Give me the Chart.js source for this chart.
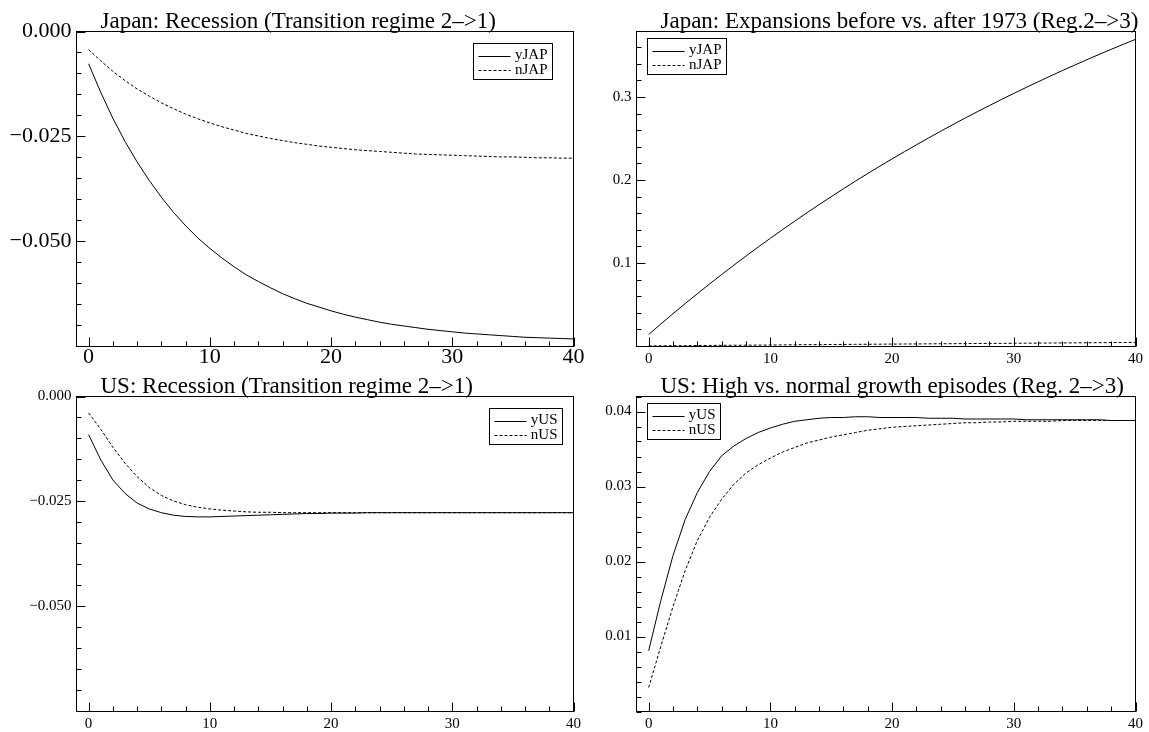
<!DOCTYPE html>
<html>
<head>
<meta charset="utf-8">
<script src="https://cdn.jsdelivr.net/npm/chart.js@4.4.1/dist/chart.umd.min.js"></script>
<style>
  html, body { margin: 0; padding: 0; background: #fff; }
  #page { position: relative; width: 1149px; height: 732px; overflow: hidden; }
  #page canvas { position: absolute; }
</style>
</head>
<body>
<div id="page">
  <canvas id="japRec" width="600" height="372" style="left:0px;top:0px"></canvas>
  <canvas id="japExp" width="569" height="372" style="left:580px;top:0px"></canvas>
  <canvas id="usRec" width="600" height="360" style="left:0px;top:372px"></canvas>
  <canvas id="usHigh" width="569" height="360" style="left:580px;top:372px"></canvas>
</div>
<script>
const horizons = [0, 1, 2, 3, 4, 5, 6, 7, 8, 9, 10, 11, 12, 13, 14, 15, 16, 17, 18, 19, 20,
  21, 22, 23, 24, 25, 26, 27, 28, 29, 30, 31, 32, 33, 34, 35, 36, 37, 38, 39, 40];

// Japan, recession (regime 2->1)
const japRecY = [-0.0077, -0.0145, -0.0207, -0.0262, -0.0311, -0.0355, -0.0395, -0.0431, -0.0463, -0.0492, -0.0517,
  -0.0540, -0.0561, -0.0580, -0.0596, -0.0611, -0.0625, -0.0637, -0.0648, -0.0657, -0.0666,
  -0.0674, -0.0681, -0.0687, -0.0693, -0.0698, -0.0702, -0.0706, -0.0710, -0.0713, -0.0716,
  -0.0719, -0.0721, -0.0723, -0.0725, -0.0727, -0.0729, -0.0730, -0.0731, -0.0732, -0.0733];
const japRecN = [-0.0043, -0.0070, -0.0095, -0.0117, -0.0137, -0.0154, -0.0170, -0.0184, -0.0197, -0.0208, -0.0218,
  -0.0227, -0.0235, -0.0243, -0.0249, -0.0255, -0.0260, -0.0265, -0.0269, -0.0273, -0.0276,
  -0.0279, -0.0282, -0.0284, -0.0286, -0.0288, -0.0290, -0.0292, -0.0293, -0.0294, -0.0295,
  -0.0296, -0.0297, -0.0298, -0.0299, -0.0299, -0.0300, -0.0301, -0.0301, -0.0302, -0.0302];

// Japan, expansions before vs after 1973 (regime 2->3)
const japExpY = [0.0140, 0.0266, 0.0390, 0.0512, 0.0631, 0.0748, 0.0862, 0.0975, 0.1085, 0.1193, 0.1299,
  0.1403, 0.1505, 0.1606, 0.1704, 0.1800, 0.1895, 0.1988, 0.2079, 0.2168, 0.2255,
  0.2341, 0.2425, 0.2508, 0.2589, 0.2669, 0.2747, 0.2823, 0.2898, 0.2972, 0.3044,
  0.3115, 0.3184, 0.3253, 0.3320, 0.3385, 0.3450, 0.3513, 0.3575, 0.3636, 0.3695];
const japExpN = [0.0002, 0.0003, 0.0004, 0.0005, 0.0007, 0.0008, 0.0009, 0.0010, 0.0011, 0.0012, 0.0013,
  0.0014, 0.0016, 0.0017, 0.0018, 0.0019, 0.0020, 0.0021, 0.0022, 0.0023, 0.0024,
  0.0025, 0.0026, 0.0027, 0.0028, 0.0029, 0.0030, 0.0031, 0.0032, 0.0033, 0.0034,
  0.0035, 0.0036, 0.0037, 0.0038, 0.0039, 0.0040, 0.0041, 0.0042, 0.0043, 0.0044];

// US, recession (regime 2->1)
const usRecY = [-0.0091, -0.0151, -0.0199, -0.0231, -0.0254, -0.0268, -0.0277, -0.0283, -0.0286, -0.0287, -0.0287,
  -0.0286, -0.0285, -0.0284, -0.0283, -0.0282, -0.0281, -0.0280, -0.0279, -0.0279, -0.0278,
  -0.0278, -0.0278, -0.0277, -0.0277, -0.0277, -0.0277, -0.0277, -0.0277, -0.0277, -0.0277,
  -0.0277, -0.0277, -0.0277, -0.0277, -0.0277, -0.0277, -0.0277, -0.0277, -0.0277, -0.0277];
const usRecN = [-0.0039, -0.0078, -0.0121, -0.0159, -0.0191, -0.0217, -0.0236, -0.0249, -0.0258, -0.0264, -0.0268,
  -0.0271, -0.0273, -0.0275, -0.0276, -0.0276, -0.0277, -0.0277, -0.0277, -0.0277, -0.0277,
  -0.0277, -0.0277, -0.0277, -0.0277, -0.0277, -0.0277, -0.0277, -0.0277, -0.0277, -0.0277,
  -0.0277, -0.0277, -0.0277, -0.0277, -0.0277, -0.0277, -0.0277, -0.0277, -0.0277, -0.0277];

// US, high vs normal growth (regime 2->3)
const usHighY = [0.0081, 0.0148, 0.0208, 0.0256, 0.0292, 0.0320, 0.0341, 0.0354, 0.0364, 0.0372, 0.0378,
  0.0383, 0.0387, 0.0389, 0.0391, 0.0392, 0.0392, 0.0393, 0.0393, 0.0392, 0.0392,
  0.0392, 0.0392, 0.0391, 0.0391, 0.0391, 0.0390, 0.0390, 0.0390, 0.0390, 0.0390,
  0.0389, 0.0389, 0.0389, 0.0389, 0.0389, 0.0389, 0.0389, 0.0388, 0.0388, 0.0388];
const usHighN = [0.0032, 0.0087, 0.0140, 0.0188, 0.0228, 0.0259, 0.0283, 0.0303, 0.0318, 0.0329, 0.0338,
  0.0346, 0.0352, 0.0358, 0.0362, 0.0366, 0.0369, 0.0372, 0.0375, 0.0377, 0.0379,
  0.0380, 0.0381, 0.0382, 0.0383, 0.0384, 0.0385, 0.0385, 0.0386, 0.0386, 0.0387,
  0.0387, 0.0387, 0.0387, 0.0388, 0.0388, 0.0388, 0.0388, 0.0388, 0.0388, 0.0388];

const xTicks = [0, 10, 20, 30, 40];
const recTicks = [-0.050, -0.025, 0.000];
const japExpTicks = [0.1, 0.2, 0.3];
const usHighTicks = [0.01, 0.02, 0.03, 0.04];

const serif = '"Liberation Serif", "Times New Roman", serif';
Chart.defaults.color = '#000';

// frame, inward ticks, title and boxed legend, the way the original graphics package draws them
const panelDecor = {
  id: 'panelDecor',
  afterDraw(chart, args, opts) {
    const ctx = chart.ctx;
    const area = chart.chartArea;
    const xs = chart.scales.x;
    const ys = chart.scales.y;
    ctx.save();
    ctx.strokeStyle = '#000';
    ctx.lineWidth = 1;
    ctx.strokeRect(area.left, area.top, area.right - area.left, area.bottom - area.top);

    ctx.beginPath();
    for (let v = Math.ceil(xs.min / opts.xMinor) * opts.xMinor; v <= xs.max + 1e-9; v += opts.xMinor) {
      const px = Math.round(xs.getPixelForValue(v)) + 0.5;
      const major = xs.ticks.some(t => Math.abs(t.value - v) < 1e-9);
      ctx.moveTo(px, area.bottom);
      ctx.lineTo(px, area.bottom - (major ? 9 : 5));
    }
    const n0 = Math.ceil(ys.min / opts.yMinor - 1e-6);
    const n1 = Math.floor(ys.max / opts.yMinor + 1e-6);
    for (let i = n0; i <= n1; i++) {
      const v = i * opts.yMinor;
      const py = Math.round(ys.getPixelForValue(v)) + 0.5;
      const major = ys.ticks.some(t => Math.abs(t.value - v) < opts.yMinor / 100);
      ctx.moveTo(area.left, py);
      ctx.lineTo(area.left + (major ? 9 : 5), py);
    }
    ctx.stroke();

    ctx.fillStyle = '#000';
    ctx.font = '23px ' + serif;
    ctx.textAlign = 'left';
    ctx.textBaseline = 'alphabetic';
    ctx.fillText(opts.title, area.left + 24, area.top - 4);

    ctx.font = '15px ' + serif;
    const sets = chart.data.datasets;
    const textW = Math.max(...sets.map(d => ctx.measureText(d.label).width));
    const boxW = Math.round(5 + 32 + 4 + textW + 5);
    const boxH = 36;
    const bx = Math.round(area.left + opts.legendX) + 0.5;
    const by = Math.round(area.top + opts.legendY) + 0.5;
    ctx.fillStyle = '#fff';
    ctx.fillRect(bx, by, boxW, boxH);
    ctx.strokeRect(bx, by, boxW, boxH);
    sets.forEach((d, i) => {
      const ry = by + 12 + i * 14.5;
      ctx.setLineDash(d.borderDash || []);
      ctx.beginPath();
      ctx.moveTo(bx + 5, Math.round(ry) + 0.5);
      ctx.lineTo(bx + 37, Math.round(ry) + 0.5);
      ctx.stroke();
      ctx.setLineDash([]);
      ctx.fillStyle = '#000';
      ctx.textAlign = 'right';
      ctx.textBaseline = 'middle';
      ctx.fillText(d.label, bx + boxW - 5, ry);
    });
    ctx.restore();
  }
};

function fmtDec(digits) {
  return v => (v < 0 ? '\u2212' : '') + Math.abs(v).toFixed(digits);
}

function makePanel(id, p) {
  const datasets = p.series.map(s => ({
    label: s.label,
    data: horizons.map((h, i) => ({ x: h, y: s.values[i] })),
    borderColor: '#000',
    borderWidth: 1,
    borderDash: s.dashed ? [3, 2] : [],
    pointRadius: 0,
    tension: 0,
    fill: false
  }));
  return new Chart(document.getElementById(id), {
    type: 'line',
    data: { datasets },
    options: {
      responsive: false,
      animation: false,
      layout: { padding: { top: p.padTop, right: p.padRight, left: 0, bottom: 0 } },
      plugins: {
        legend: { display: false },
        tooltip: { enabled: false },
        panelDecor: { title: p.title, xMinor: 2, yMinor: p.yMinor, legendX: p.legendX, legendY: p.legendY }
      },
      scales: {
        x: {
          type: 'linear',
          min: -1,
          max: 40,
          grid: { display: false, drawTicks: false },
          border: { display: false },
          afterBuildTicks: s => { s.ticks = xTicks.map(v => ({ value: v })); },
          afterFit: s => { s.height = p.xAxisH; },
          ticks: {
            font: { family: serif, size: p.fontSize, lineHeight: 1 },
            color: '#000',
            padding: p.xPad,
            maxRotation: 0,
            autoSkip: false,
            callback: v => String(v)
          }
        },
        y: {
          type: 'linear',
          min: p.yMin,
          max: p.yMax,
          grid: { display: false, drawTicks: false },
          border: { display: false },
          afterBuildTicks: s => { s.ticks = p.yTicks.map(v => ({ value: v })); },
          afterFit: s => { s.width = p.yAxisW; },
          ticks: {
            font: { family: serif, size: p.fontSize, lineHeight: 1 },
            color: '#000',
            padding: 5,
            autoSkip: false,
            callback: p.yFmt
          }
        }
      }
    },
    plugins: [panelDecor]
  });
}

makePanel('japRec', {
  title: 'Japan: Recession (Transition regime 2\u2013>1)',
  series: [{ label: 'yJAP', values: japRecY }, { label: 'nJAP', values: japRecN, dashed: true }],
  yMin: -0.0751, yMax: 0, yTicks: recTicks, yFmt: fmtDec(3), yMinor: 0.005,
  fontSize: 22, xPad: 0, padTop: 31.5, padRight: 26.5, yAxisW: 76.5, xAxisH: 25.5,
  legendX: 396, legendY: 11
});

makePanel('japExp', {
  title: 'Japan: Expansions before vs. after 1973 (Reg.2\u2013>3)',
  series: [{ label: 'yJAP', values: japExpY }, { label: 'nJAP', values: japExpN, dashed: true }],
  yMin: -0.0005, yMax: 0.379, yTicks: japExpTicks, yFmt: fmtDec(1), yMinor: 0.02,
  fontSize: 15, xPad: 5.5, padTop: 31.5, padRight: 13.5, yAxisW: 56.5, xAxisH: 25.5,
  legendX: 10, legendY: 6
});

makePanel('usRec', {
  title: 'US: Recession (Transition regime 2\u2013>1)',
  series: [{ label: 'yUS', values: usRecY }, { label: 'nUS', values: usRecN, dashed: true }],
  yMin: -0.0751, yMax: 0, yTicks: recTicks, yFmt: fmtDec(3), yMinor: 0.005,
  fontSize: 15, xPad: 5, padTop: 24.5, padRight: 26.5, yAxisW: 76.5, xAxisH: 20.5,
  legendX: 412, legendY: 11
});

makePanel('usHigh', {
  title: 'US: High vs. normal growth episodes (Reg. 2\u2013>3)',
  series: [{ label: 'yUS', values: usHighY }, { label: 'nUS', values: usHighN, dashed: true }],
  yMin: 0, yMax: 0.042, yTicks: usHighTicks, yFmt: fmtDec(2), yMinor: 0.002,
  fontSize: 15, xPad: 5, padTop: 24.5, padRight: 13.5, yAxisW: 56.5, xAxisH: 20.5,
  legendX: 10, legendY: 6
});
</script>
</body>
</html>
